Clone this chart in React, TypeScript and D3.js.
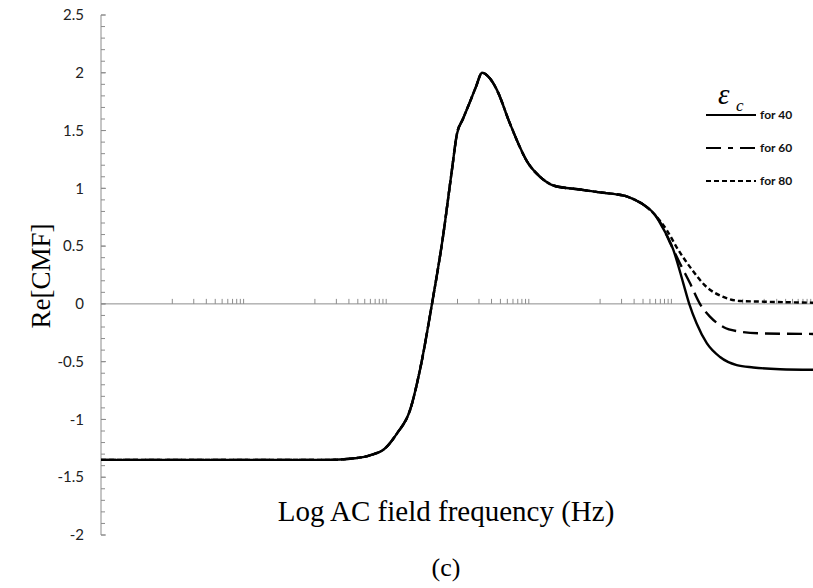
import React from "react";
import * as d3 from "d3";

// Frequencies are given as log10(Hz) exponents
const sharedLogF = [2.0, 3.045, 3.606, 3.746, 3.886, 3.992, 4.076, 4.167, 4.237, 4.321, 4.398, 4.461, 4.496, 4.538, 4.588, 4.63, 4.672, 4.728, 4.777, 4.868, 4.994, 5.079, 5.184, 5.359, 5.499, 5.604, 5.675, 5.745, 5.815, 5.885];
const sharedRe = [-1.35, -1.35, -1.35, -1.34, -1.31, -1.25, -1.12, -0.92, -0.57, 0.0, 0.58, 1.16, 1.47, 1.6, 1.75, 1.88, 2.0, 1.95, 1.85, 1.56, 1.22, 1.1, 1.02, 0.99, 0.965, 0.95, 0.935, 0.9, 0.85, 0.77];

const tail40LogF = [5.92, 6.013, 6.083, 6.125, 6.177, 6.248, 6.341, 6.458, 6.574, 6.762, 7.0];
const tail40Re = [0.7, 0.47, 0.18, 0.0, -0.17, -0.34, -0.46, -0.53, -0.55, -0.565, -0.57];

const tail60LogF = [5.92, 5.99, 6.06, 6.13, 6.2, 6.27, 6.364, 6.481, 6.621, 7.0];
const tail60Re = [0.71, 0.53, 0.35, 0.18, 0.0, -0.11, -0.2, -0.24, -0.255, -0.26];

const tail80LogF = [5.92, 5.967, 6.037, 6.13, 6.248, 6.364, 6.481, 6.621, 7.0];
const tail80Re = [0.72, 0.64, 0.49, 0.32, 0.145, 0.06, 0.025, 0.02, 0.01];

const seriesLabels = ["for 40", "for 60", "for 80"];
const yTicks = [-2, -1.5, -1, -0.5, 0, 0.5, 1, 1.5, 2, 2.5];
const yTickLabels = ["-2", "-1.5", "-1", "-0.5", "0", "0.5", "1", "1.5", "2", "2.5"];
const decades = [3, 4, 5, 6, 7];
const minorK = [1, 2, 3, 4, 5, 6, 7, 8, 9, 10];

const W = 813;
const H = 588;

export default function App() {
  const x = d3.scaleLog().domain([1e2, 1e7]).range([101, 814]);
  const y = d3.scaleLinear().domain([-2, 2.5]).range([535, 15]);

  const build = (tf: number[], tr: number[]) => {
    const pts: [number, number][] = [];
    sharedLogF.forEach((l, i) => pts.push([Math.pow(10, l), sharedRe[i]]));
    tf.forEach((l, i) => pts.push([Math.pow(10, l), tr[i]]));
    return pts;
  };
  const line = d3
    .line<[number, number]>()
    .x((d) => x(d[0]))
    .y((d) => y(d[1]))
    .curve(d3.curveMonotoneX);

  const series = [
    { pts: build(tail80LogF, tail80Re), dash: "5,3" },
    { pts: build(tail60LogF, tail60Re), dash: "15,7" },
    { pts: build(tail40LogF, tail40Re), dash: "" },
  ];

  const minorY = d3.range(-20, 26).map((v) => v / 10);
  const xMinor: number[] = [];
  decades.forEach((d) =>
    minorK.forEach((k) => xMinor.push(Math.pow(10, d - 0.5 + 0.5 * Math.log10(k))))
  );

  const axisColor = "#8c8c8c";
  const legendY = [115, 148, 181];
  const legendDash = ["", "15,7,5,7", "5,3"];
  const serif = "'Liberation Serif', 'Times New Roman', serif";

  return (
    <svg width={W} height={H} style={{ position: "absolute", left: 0, top: 0, background: "#fff" }}>
      {/* Y axis */}
      <line x1={101} x2={101} y1={y(2.5)} y2={y(-2)} stroke={axisColor} strokeWidth={1} />
      {minorY.map((v, i) => (
        <line key={"my" + i} x1={101} x2={105} y1={y(v)} y2={y(v)} stroke={axisColor} strokeWidth={1} />
      ))}
      {yTicks.map((v, i) => (
        <g key={"yt" + i}>
          <line x1={101} x2={106} y1={y(v)} y2={y(v)} stroke={axisColor} strokeWidth={1} />
          <text
            x={84}
            y={y(v)}
            dy="0.35em"
            textAnchor="end"
            fontFamily="Lato, 'Open Sans', sans-serif"
            fontSize={15}
            fill="#222"
          >
            {yTickLabels[i]}
          </text>
        </g>
      ))}
      {/* X axis at y=0 */}
      <line x1={101} x2={813} y1={y(0)} y2={y(0)} stroke={axisColor} strokeWidth={1} />
      {xMinor.map((f, i) => (
        <line key={"mx" + i} x1={x(f)} x2={x(f)} y1={y(0)} y2={y(0) - 5} stroke={axisColor} strokeWidth={1} />
      ))}

      {/* curves */}
      {series.map((s, i) => (
        <path
          key={"s" + i}
          d={line(s.pts) || ""}
          fill="none"
          stroke="#000"
          strokeWidth={2.4}
          strokeDasharray={s.dash}
        />
      ))}

      {/* legend */}
      <text x={718} y={104} fontFamily={serif} fontStyle="italic" fontSize={29}>
        ε
      </text>
      <text x={736} y={111} fontFamily={serif} fontStyle="italic" fontSize={17}>
        c
      </text>
      {seriesLabels.map((lab, i) => (
        <g key={"lg" + i}>
          <line
            x1={706}
            x2={756}
            y1={legendY[i]}
            y2={legendY[i]}
            stroke="#000"
            strokeWidth={2}
            strokeDasharray={legendDash[i]}
          />
          <text
            x={760}
            y={legendY[i]}
            dy="0.35em"
            fontFamily="Lato, 'Open Sans', sans-serif"
            fontWeight="bold"
            fontSize={12}
            fill="#111"
          >
            {lab}
          </text>
        </g>
      ))}

      {/* axis titles */}
      <text
        transform={`translate(50,${276}) rotate(-90)`}
        textAnchor="middle"
        fontFamily={serif}
        fontSize={27}
      >
        Re[CMF]
      </text>
      <text x={446} y={521} textAnchor="middle" fontFamily={serif} fontSize={29}>
        Log AC field frequency (Hz)
      </text>
      <text x={446} y={576} textAnchor="middle" fontFamily={serif} fontSize={26}>
        (c)
      </text>
    </svg>
  );
}
